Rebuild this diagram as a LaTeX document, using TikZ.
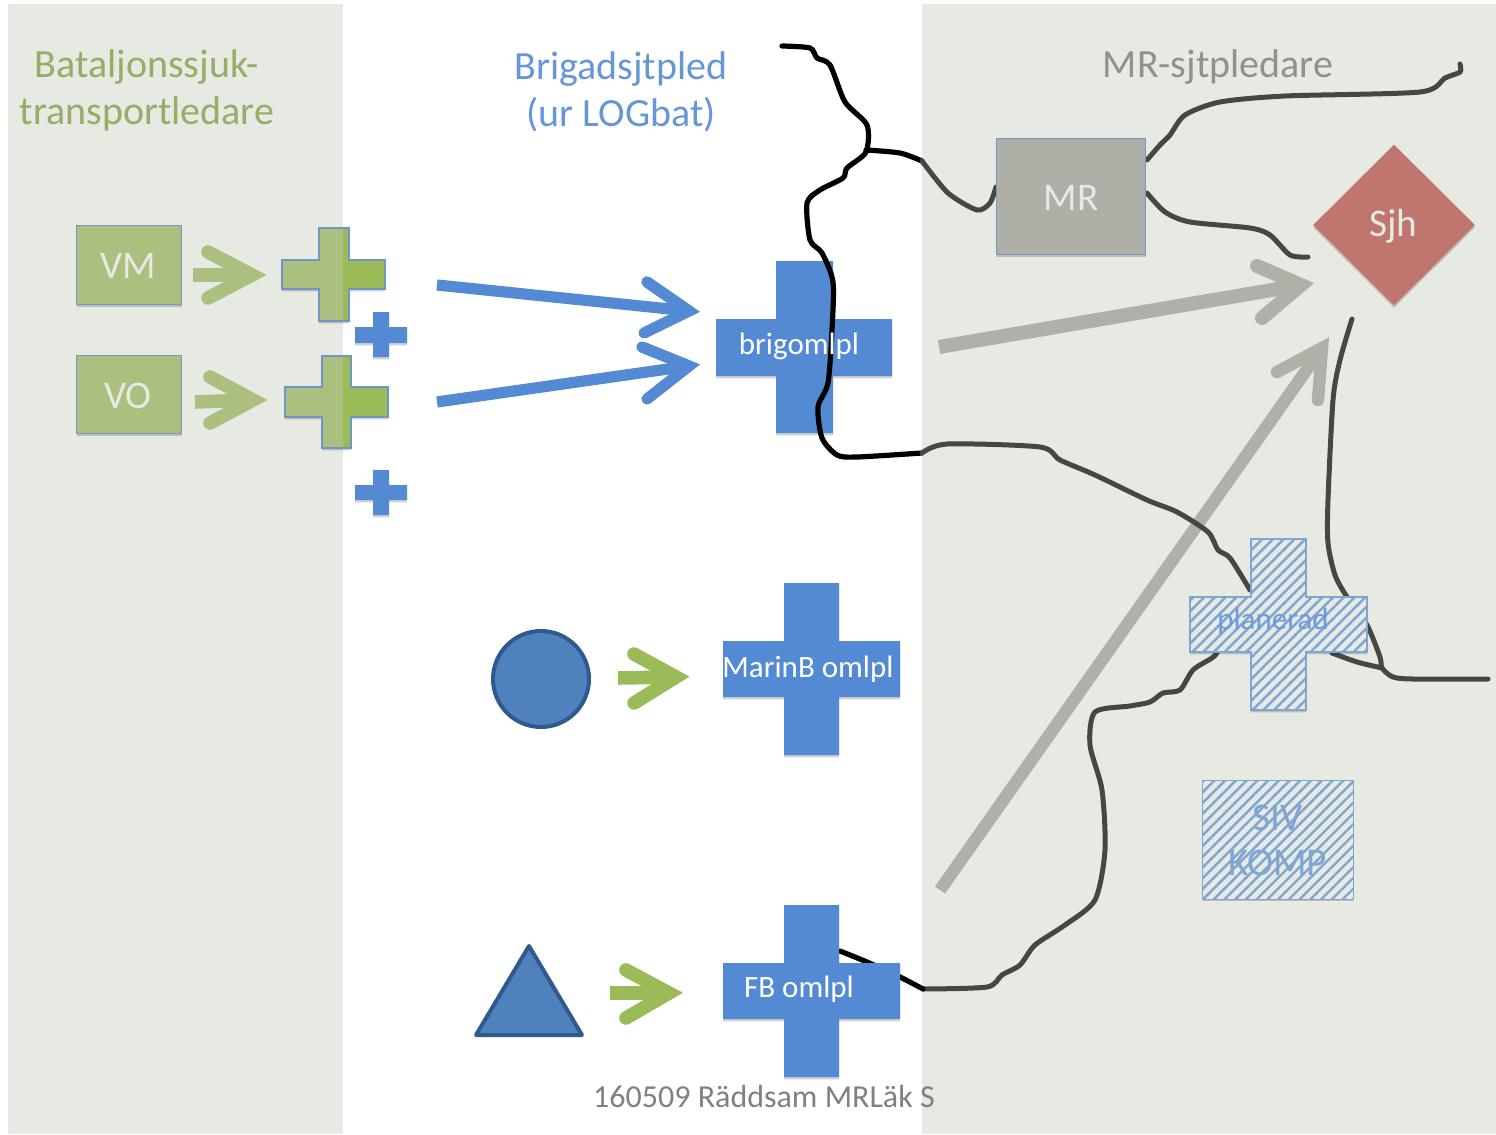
\documentclass[tikz,border=0pt]{standalone}
\usepackage{fontspec}
\setmainfont{Carlito}
\usetikzlibrary{shadows,patterns.meta,shapes.geometric}
\definecolor{panel}{HTML}{E7E9E3}
\definecolor{bluef}{HTML}{548AD4}
\definecolor{shapeb}{HTML}{4F81BD}
\definecolor{shapeedge}{HTML}{2F5A8F}
\definecolor{greenlt}{HTML}{ABC07F}
\definecolor{greendk}{HTML}{9BBB59}
\definecolor{edgeb}{HTML}{7096C8}
\definecolor{greya}{HTML}{ADB1A7}
\definecolor{river}{HTML}{46483F}
\definecolor{hatch}{HTML}{7FA6D3}
\definecolor{sjhc}{HTML}{C0756F}
\definecolor{mrc}{HTML}{AEB0A8}
\tikzset{
  shad/.style={drop shadow={shadow xshift=0pt,shadow yshift=-1.2pt,opacity=.18,fill=black}},
  bluecross/.style={fill=bluef,shad},
  boxgreen/.style={fill=greenlt,draw=edgeb,line width=.7pt,shad},
  hatched/.style={pattern={Lines[angle=45,distance=3.8pt,line width=1.2pt]},pattern color=hatch},
  hatchedge/.style={draw=hatch,line width=.7pt},
  arrowblue/.style={draw=bluef,line width=5.6pt,line cap=round,line join=miter},
  arrowgrey/.style={draw=greya,line width=7pt,line cap=round,line join=miter},
  arrowgreythin/.style={draw=greya,line width=6.2pt,line cap=round,line join=miter},
  arrowgreen/.style={draw=greendk,line width=6.8pt,line cap=round,line join=miter},
  arrowpale/.style={draw=greenlt,line width=6.8pt,line cap=round,line join=miter},
  riverblack/.style={draw=black,line width=2.6pt,line cap=round},
  rivergrey/.style={draw=river,line width=2.5pt,line cap=round},
  lbl/.style={inner sep=0pt,font=\fontsize{15.5}{18}\selectfont,text=white},
  big/.style={inner sep=0pt,font=\fontsize{20}{22}\selectfont},
  mid/.style={inner sep=0pt,font=\fontsize{19.6}{22}\selectfont},
}
\newcommand\crosspath[8]{(#2,#5) -| (#3,#6) -| (#4,#7) -| (#3,#8) -| (#2,#7) -| (#1,#6) -| (#2,#5) -- cycle}
% name, style, start, tip, upper arm end, lower arm end
\newcommand\chev[6]{%
  \coordinate (#1s) at (#3); \coordinate (#1t) at (#4);
  \coordinate (#1u) at (#5); \coordinate (#1d) at (#6);
  \draw[#2,line cap=butt] (#1s) -- (#1t);
  \draw[#2] (#1u) -- (#1t) -- (#1d);}
\begin{document}
\begin{tikzpicture}[x=0.5pt,y=-0.5pt]
\useasboundingbox (0,0) rectangle (1496,1135);
% panels
\fill[panel] (8,4) rectangle (343,1134);
\fill[panel] (922,4) rectangle (1496,1134);
% titles
\node[big,text=greendk!85!black!85!white] (t1) at (147,67) {Bataljonssjuk-};
\node[big,text=greendk!85!black!85!white] (t2) at (147,114) {transportledare};
\node[big,text=bluef!90!white] (t3) at (621,69) {Brigadsjtpled};
\node[big,text=bluef!90!white] (t4) at (621,115) {(ur LOGbat)};
\node[big,text=black!38!panel] (t5) at (1218,67) {MR-sjtpledare};
% VM / VO
\node[boxgreen,minimum width=52.5pt,minimum height=39.5pt,inner sep=0pt] (vm) at (129,265) {};
\node[boxgreen,minimum width=52.5pt,minimum height=39pt,inner sep=0pt] (vo) at (129,394.5) {};
\node[mid,text=panel] at (128,266) {VM};
\node[mid,text=panel] at (128,396) {VO};
\chev{g1}{arrowpale}{193,275}{252,275}{208,252}{208,298}
\chev{g2}{arrowpale}{195,402}{253,400}{210,377}{210,423}
% green crosses, paler where the panel covers them
\draw[fill=greendk,draw=edgeb,line width=.7pt,shad] \crosspath{282}{319}{349}{385}{228}{260}{289}{321};
\begin{scope}\clip (0,0) rectangle (343,1135);
\draw[fill=greenlt,draw=edgeb,line width=.7pt] \crosspath{282}{319}{349}{385}{228}{260}{289}{321};
\end{scope}
\draw[fill=greendk,draw=edgeb,line width=.7pt,shad] \crosspath{285}{322}{351}{388}{356}{387}{417}{448};
\begin{scope}\clip (0,0) rectangle (343,1135);
\draw[fill=greenlt,draw=edgeb,line width=.7pt] \crosspath{285}{322}{351}{388}{356}{387}{417}{448};
\end{scope}
% small blue crosses
\fill[bluecross] \crosspath{355}{373}{389}{407}{312}{327}{343}{357};
\fill[bluecross] \crosspath{355}{373}{389}{407}{470}{485}{500}{515};
% blue arrows
\chev{b1}{arrowblue}{437,285}{689,311}{647,282}{689,311}
\draw[arrowblue] (b1u) -- (b1t) -- (644,333);
\chev{b2}{arrowblue}{437,402}{689,366}{642,347}{689,366}
\draw[arrowblue] (b2u) -- (b2t) -- (647,399);
% grey arrows
\chev{c1}{arrowgrey}{939,347}{1301,285}{1257,266}{1262,318}
\chev{c2}{arrowgreythin}{940,890}{1322,348}{1277,372}{1318,400}
% brigomlpl cross
\fill[bluecross] \crosspath{716}{776}{833}{892}{261}{319}{376}{433};
% rivers
\draw[riverblack] plot[smooth,tension=.45] coordinates {(782,46)(810,48)(817,58)(830,65)(845,102)(867,125)(866,152)(847,168)(843,178)(820,190)(807,203)(810,240)(822,253)(833,282)(832,330)(828,383)(818,407)(822,438)(837,455)(857,457)(922,453)};
\draw[riverblack] plot[smooth,tension=.45] coordinates {(866,150)(900,153)(922,161)};
\draw[rivergrey] plot[smooth,tension=.45] coordinates {(922,161)(948,193)(977,210)(990,203)(996,187)};
\draw[rivergrey] plot[smooth,tension=.45] coordinates {(922,453)(947,444)(1040,447)(1060,460)(1095,475)(1147,500)(1177,512)(1208,532)(1218,550)(1230,558)(1250,590)};
\draw[rivergrey] plot[smooth,tension=.45] coordinates {(1147,160)(1160,145)(1170,135)(1185,115)(1220,102)(1285,96)(1420,92)(1445,78)(1460,72)(1460,64)};
\draw[rivergrey] plot[smooth,tension=.45] coordinates {(1147,193)(1165,212)(1190,222)(1250,228)(1270,235)(1290,255)(1308,257)};
\draw[rivergrey] plot[smooth,tension=.45] coordinates {(1352,319)(1340,360)(1333,400)(1328,500)(1328,543)(1335,575)(1347,597)(1367,625)(1380,657)(1382,668)(1393,677)(1413,679)(1488,679)};
\draw[rivergrey] plot[smooth,tension=.45] coordinates {(1332,653)(1357,662)(1382,668)};
\draw[rivergrey] plot[smooth,tension=.45] coordinates {(1217,653)(1212,658)(1193,670)(1180,690)(1163,693)(1150,702)(1130,706)(1095,712)(1090,745)(1102,790)(1105,850)(1095,900)(1065,925)(1035,945)(1020,965)(1002,975)(987,987)(923,989)};
\draw[riverblack] plot[smooth,tension=.45] coordinates {(840,951)(867,962)(900,977)(923,989)};
\node[lbl] (brig) at (799,346) {brigomlpl};
% MR, Sjh
\node[fill=mrc,draw=edgeb,line width=.7pt,shad,minimum width=74.5pt,minimum height=58pt,inner sep=0pt] (mr) at (1071,196.5) {};
\node[mid,text=panel] (mrt) at (1071,198) {MR};
\node[diamond,fill=sjhc,inner sep=0pt,minimum width=81pt,minimum height=80.5pt,aspect=1,shad] (sjh) at (1394,225) {};
\node[mid,text=panel] (sjht) at (1393,226) {Sjh};
% planerad cross
\fill[panel,shad] \crosspath{1190}{1251}{1306}{1367}{539}{597}{652}{710};
\path[hatched] \crosspath{1190}{1251}{1306}{1367}{539}{597}{652}{710};
\draw[hatchedge] \crosspath{1190}{1251}{1306}{1367}{539}{597}{652}{710};
\node[inner sep=0pt,font=\fontsize{15.5}{18}\selectfont,text=bluef!85!white] (plan) at (1273,621) {planerad};
% SIV KOMP
\node[fill=panel,shad,minimum width=75pt,minimum height=59pt,inner sep=0pt] (siv) at (1278,840) {};
\node[mid,text=hatch] (s1) at (1278,818) {SIV};
\node[mid,text=hatch] (s2) at (1278,863) {KOMP};
\path[hatched] (siv.north west) rectangle (siv.south east);
\draw[hatchedge] (siv.north west) rectangle (siv.south east);
% MarinB, FB
\fill[bluecross] \crosspath{723}{784}{839}{900}{583}{641}{697}{755};
\node[lbl] (marin) at (808,669) {MarinB omlpl};
\fill[bluecross] \crosspath{723}{784}{839}{900}{905}{963}{1019}{1077};
\node[lbl] (fb) at (799,989) {FB omlpl};
% circle, triangle
\node[circle,fill=shapeb,draw=shapeedge,line width=2pt,minimum size=48pt,inner sep=0pt] (circ) at (541,679) {};
\draw[fill=shapeb,draw=shapeedge,line width=2pt,line join=round] (529,946) -- (582,1035) -- (476,1035) -- cycle;
\chev{g3}{arrowgreen}{618,678}{676,677}{634,654}{634,703}
\chev{g4}{arrowgreen}{610,993}{669,993}{626,970}{626,1018}
% footer
\node[inner sep=0pt,font=\fontsize{16}{18}\selectfont,text=black!50] (foot) at (764,1097) {160509 Räddsam MRLäk S};
\end{tikzpicture}
\end{document}
